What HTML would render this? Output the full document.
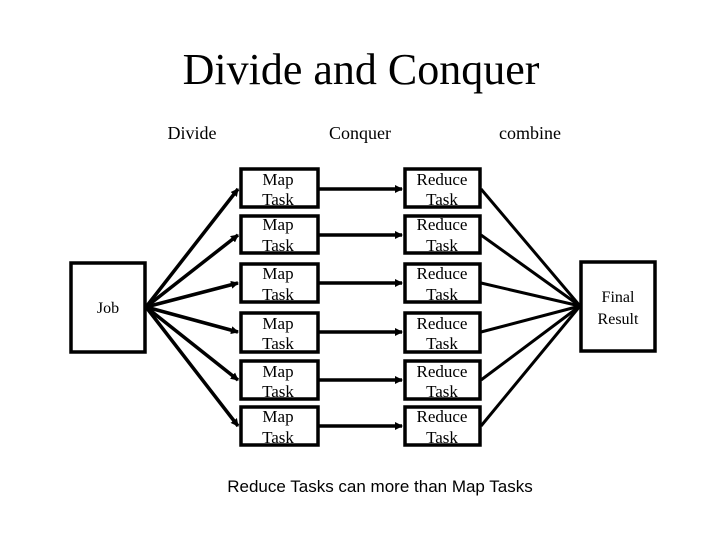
<!DOCTYPE html>
<html><head><style>
body{margin:0;background:#fff}
svg text{font-family:"Liberation Serif",serif;fill:#000}
</style></head><body>
<svg width="720" height="540" xmlns="http://www.w3.org/2000/svg">
<defs><marker id="a" markerWidth="8" markerHeight="8" refX="7" refY="4" orient="auto" markerUnits="userSpaceOnUse"><path d="M0,0 L8,4 L0,8 z" fill="#000"/></marker></defs>
<text x="361" y="84" font-size="44" text-anchor="middle">Divide and Conquer</text>
<text x="192" y="139" font-size="18" text-anchor="middle">Divide</text>
<text x="360" y="139" font-size="18" text-anchor="middle">Conquer</text>
<text x="530" y="139" font-size="18" text-anchor="middle">combine</text>
<g fill="#fff" stroke="#000" stroke-width="3.5">
<rect x="71" y="263" width="74" height="89"/>
<rect x="581" y="262" width="74" height="89"/>
<rect x="241" y="169" width="77" height="38"/><rect x="241" y="216" width="77" height="37"/><rect x="241" y="264" width="77" height="38"/><rect x="241" y="313" width="77" height="39"/><rect x="241" y="361" width="77" height="38"/><rect x="241" y="407" width="77" height="38"/>
<rect x="405" y="169" width="75" height="38"/><rect x="405" y="216" width="75" height="37"/><rect x="405" y="264" width="75" height="38"/><rect x="405" y="313" width="75" height="39"/><rect x="405" y="361" width="75" height="38"/><rect x="405" y="407" width="75" height="38"/>
</g>
<g stroke="#000" stroke-width="3.5" marker-end="url(#a)">
<line x1="146" y1="307" x2="238" y2="189"/><line x1="146" y1="307" x2="238" y2="235"/><line x1="146" y1="307" x2="238" y2="283"/><line x1="146" y1="307" x2="238" y2="332"/><line x1="146" y1="307" x2="238" y2="380"/><line x1="146" y1="307" x2="238" y2="426"/>
<line x1="319" y1="189" x2="402" y2="189"/><line x1="319" y1="235" x2="402" y2="235"/><line x1="319" y1="283" x2="402" y2="283"/><line x1="319" y1="332" x2="402" y2="332"/><line x1="319" y1="380" x2="402" y2="380"/><line x1="319" y1="426" x2="402" y2="426"/>
</g>
<g stroke="#000" stroke-width="3">
<line x1="481" y1="189" x2="580" y2="306"/><line x1="481" y1="235" x2="580" y2="306"/><line x1="481" y1="283" x2="580" y2="306"/><line x1="481" y1="332" x2="580" y2="306"/><line x1="481" y1="380" x2="580" y2="306"/><line x1="481" y1="426" x2="580" y2="306"/>
</g>
<text x="108" y="313" font-size="16" text-anchor="middle">Job</text>
<text x="618" y="302" font-size="16" text-anchor="middle">Final</text>
<text x="618" y="324" font-size="16" text-anchor="middle">Result</text>
<g font-size="17" text-anchor="middle">
<text x="278" y="185">Map</text><text x="278" y="205">Task</text>
<text x="278" y="230">Map</text><text x="278" y="251">Task</text>
<text x="278" y="279">Map</text><text x="278" y="300">Task</text>
<text x="278" y="329">Map</text><text x="278" y="349">Task</text>
<text x="278" y="377">Map</text><text x="278" y="397">Task</text>
<text x="278" y="422">Map</text><text x="278" y="443">Task</text>
<text x="442" y="185">Reduce</text><text x="442" y="205">Task</text>
<text x="442" y="230">Reduce</text><text x="442" y="251">Task</text>
<text x="442" y="279">Reduce</text><text x="442" y="300">Task</text>
<text x="442" y="329">Reduce</text><text x="442" y="349">Task</text>
<text x="442" y="377">Reduce</text><text x="442" y="397">Task</text>
<text x="442" y="422">Reduce</text><text x="442" y="443">Task</text>
</g>
<text x="380" y="492" font-size="17" text-anchor="middle" style="font-family:'Liberation Sans',sans-serif">Reduce Tasks can more than Map Tasks</text>
</svg>
</body></html>
